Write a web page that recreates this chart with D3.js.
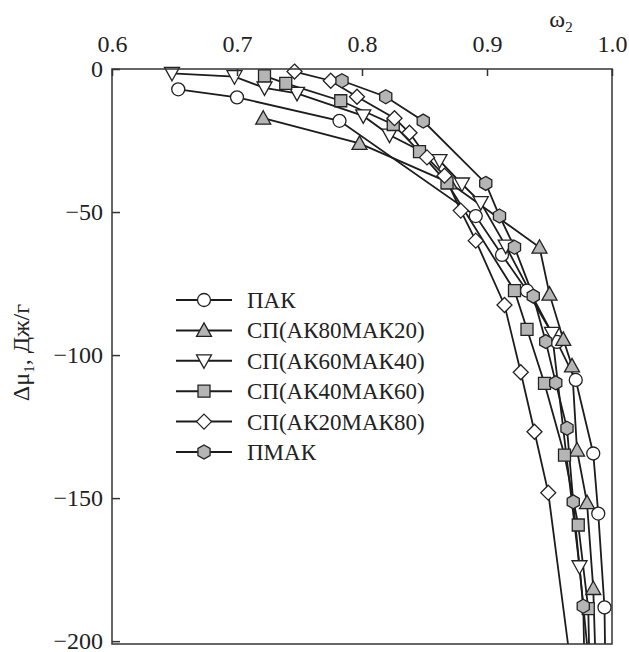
<!DOCTYPE html>
<html>
<head>
<meta charset="utf-8">
<script src="https://cdn.jsdelivr.net/npm/d3@7"></script>
<style>
  body { margin: 0; background: #fff; }
  svg text { font-family: "Liberation Serif", "Times New Roman", Times, serif; fill: #222; }
</style>
</head>
<body>
<svg id="chart" width="629" height="652"></svg>
<script>
// series names as in the legend
let seriesNames = ["ПАК", "СП(АК80МАК20)", "СП(АК60МАК40)", "СП(АК40МАК60)", "СП(АК20МАК80)", "ПМАК"];
let shapes = ["circle", "triangle", "invtriangle", "square", "diamond", "hexagon"];
let fills = ["#fff", "#b5b5b5", "#fff", "#b5b5b5", "#fff", "#b5b5b5"];

// omega2 and delta mu1
let pakW  = [0.653, 0.700, 0.782, 0.891, 0.912, 0.932, 0.956, 0.971, 0.985, 0.989, 0.994];
let pakMu = [-7.1, -9.9, -18.1, -51.4, -65.0, -77.5, -95.4, -108.7, -134.4, -155.4, -188.2];

let sp8020W  = [0.721, 0.798, 0.870, 0.942, 0.950, 0.961, 0.968, 0.972, 0.980, 0.985];
let sp8020Mu = [-17.2, -26.0, -39.8, -62.3, -78.7, -94.5, -103.8, -133.2, -151.6, -181.6];

let sp6040W  = [0.648, 0.698, 0.722, 0.748, 0.801, 0.822, 0.862, 0.880, 0.895, 0.915, 0.952, 0.974];
let sp6040Mu = [-1.5, -2.7, -6.6, -8.5, -16.4, -23.1, -32.0, -40.2, -46.7, -61.9, -92.4, -174.0];

let sp4060W  = [0.722, 0.739, 0.783, 0.825, 0.846, 0.868, 0.922, 0.932, 0.946, 0.962, 0.973, 0.981];
let sp4060Mu = [-2.4, -5.0, -11.1, -19.4, -28.9, -39.8, -77.5, -91.0, -109.9, -135.0, -159.4, -188.6];

let sp2080W  = [0.746, 0.775, 0.796, 0.826, 0.838, 0.852, 0.866, 0.879, 0.891, 0.914, 0.927, 0.938, 0.949];
let sp2080Mu = [-0.9, -4.1, -9.7, -17.2, -22.3, -30.9, -37.3, -49.5, -60.0, -82.5, -106.0, -126.8, -148.1];

let pmakW  = [0.784, 0.819, 0.849, 0.899, 0.910, 0.922, 0.937, 0.947, 0.955, 0.964, 0.969, 0.977];
let pmakMu = [-4.1, -9.7, -18.2, -40.0, -51.4, -62.3, -79.4, -95.3, -109.7, -125.6, -151.3, -187.8];

// where each curve leaves the frame at the bottom
let tailW = [0.9944, 0.9864, 0.980, 0.9816, 0.9648, 0.9776];

let xTicks = [0.6, 0.7, 0.8, 0.9, 1.0];
let yTicks = [0, -50, -100, -150, -200];

let allW = [pakW, sp8020W, sp6040W, sp4060W, sp2080W, pmakW];
let allMu = [pakMu, sp8020Mu, sp6040Mu, sp4060Mu, sp2080Mu, pmakMu];

let plotLeft = 112, plotRight = 612, plotTop = 69, plotBottom = 644;
let yMin = -201;

let x = d3.scaleLinear().domain([0.6, 1.0]).range([plotLeft, plotRight]);
let y = d3.scaleLinear().domain([0, yMin]).range([plotTop, plotBottom]);

let svg = d3.select("#chart");

// marker outlines, centred on 0,0
function markerPath(shape) {
	let p = d3.path();
	if (shape == "circle") {
		p.arc(0, 0, 6.5, 0, 2*Math.PI);
	} else if (shape == "triangle") {
		p.moveTo(0, -7.5); p.lineTo(7.5, 6); p.lineTo(-7.5, 6); p.closePath();
	} else if (shape == "invtriangle") {
		p.moveTo(0, 7.5); p.lineTo(7.5, -6); p.lineTo(-7.5, -6); p.closePath();
	} else if (shape == "square") {
		p.rect(-6, -6, 12, 12);
	} else if (shape == "diamond") {
		p.moveTo(0, -7.5); p.lineTo(7.5, 0); p.lineTo(0, 7.5); p.lineTo(-7.5, 0); p.closePath();
	} else {
		for (let k = 0; k < 6; k++) {
			let a = Math.PI/3*k - Math.PI/2;
			if (k == 0) p.moveTo(7*Math.cos(a), 7*Math.sin(a));
			else p.lineTo(7*Math.cos(a), 7*Math.sin(a));
		}
		p.closePath();
	}
	return p.toString();
}

svg.append("clipPath").attr("id", "plot-clip")
	.append("rect")
	.attr("x", plotLeft).attr("y", plotTop - 20)
	.attr("width", plotRight - plotLeft).attr("height", plotBottom - plotTop + 20);

let line = d3.line()
	.x(function(d) { return x(d[0]); })
	.y(function(d) { return y(d[1]); });

let plot = svg.append("g").attr("clip-path", "url(#plot-clip)");

allW.forEach(function(ws, i) {
	let pts = ws.map(function(w, j) { return [w, allMu[i][j]]; });
	let linePts = pts.concat([[tailW[i], yMin]]);
	plot.append("path")
		.attr("d", line(linePts))
		.attr("fill", "none")
		.attr("stroke", "#1c1c1c")
		.attr("stroke-width", 1.8);
});

// markers drawn after all lines
allW.forEach(function(ws, i) {
	let pts = ws.map(function(w, j) { return [w, allMu[i][j]]; });
	plot.selectAll(".m" + i)
		.data(pts)
		.enter().append("path")
		.attr("class", "m" + i)
		.attr("d", markerPath(shapes[i]))
		.attr("transform", function(d) { return "translate(" + x(d[0]) + "," + y(d[1]) + ")"; })
		.attr("fill", fills[i])
		.attr("stroke", "#222")
		.attr("stroke-width", 1.3);
});

// frame
svg.append("rect")
	.attr("x", plotLeft).attr("y", plotTop)
	.attr("width", plotRight - plotLeft).attr("height", plotBottom - plotTop)
	.attr("fill", "none")
	.attr("stroke", "#333")
	.attr("stroke-width", 1.5);

// axes
let xAxis = svg.append("g")
	.attr("transform", "translate(0," + plotTop + ")")
	.call(d3.axisTop(x).tickValues(xTicks).tickFormat(d3.format(".1f"))
		.tickSizeInner(-7).tickSizeOuter(0).tickPadding(17));
xAxis.select(".domain").remove();
xAxis.selectAll("line").attr("stroke", "#333").attr("stroke-width", 1.5);
xAxis.selectAll("text").style("font-size", "24px").attr("fill", "#222");

let yAxis = svg.append("g")
	.attr("transform", "translate(" + plotLeft + ",0)")
	.call(d3.axisLeft(y).tickValues(yTicks).tickFormat(d3.format("d"))
		.tickSizeInner(-8).tickSizeOuter(0).tickPadding(9));
yAxis.select(".domain").remove();
yAxis.selectAll("line").attr("stroke", "#333").attr("stroke-width", 1.5);
yAxis.selectAll("text").style("font-size", "24px").attr("fill", "#222");

// axis titles
let wLabel = svg.append("text")
	.attr("x", 561).attr("y", 27)
	.style("font-size", "24px")
	.style("text-anchor", "middle");
wLabel.append("tspan").text("ω");
wLabel.append("tspan").attr("dy", 5).style("font-size", "15px").text("2");

let muLabel = svg.append("text")
	.attr("transform", "translate(29," + ((plotTop + plotBottom)/2 - 4) + ") rotate(-90)")
	.style("font-size", "24px")
	.style("text-anchor", "middle");
muLabel.append("tspan").text("Δμ");
muLabel.append("tspan").attr("dy", 5).style("font-size", "15px").text("1");
muLabel.append("tspan").attr("dy", -5).text(", Дж/г");

// legend
let legend = svg.append("g");
seriesNames.forEach(function(name, i) {
	let ly = 300 + i*30.4;
	legend.append("line")
		.attr("x1", 176).attr("x2", 232)
		.attr("y1", ly).attr("y2", ly)
		.attr("stroke", "#1c1c1c").attr("stroke-width", 2);
	legend.append("path")
		.attr("d", markerPath(shapes[i]))
		.attr("transform", "translate(204," + ly + ")")
		.attr("fill", fills[i])
		.attr("stroke", "#222")
		.attr("stroke-width", 1.3);
	legend.append("text")
		.attr("x", 247).attr("y", ly + 8)
		.style("font-size", "23px")
		.text(name);
});
</script>
</body>
</html>
